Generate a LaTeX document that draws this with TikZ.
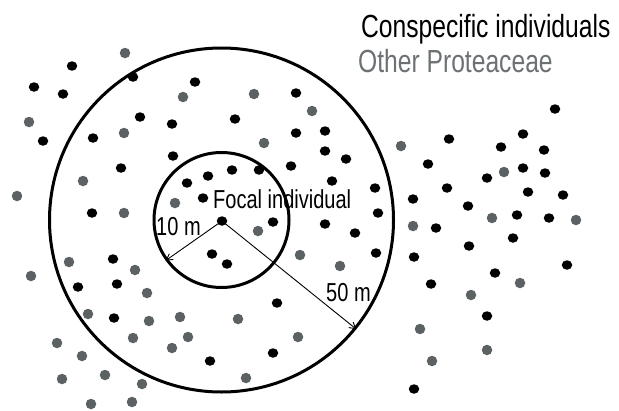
\documentclass[tikz,border=0pt]{standalone}
\usepackage{fontspec}
\setmainfont{Liberation Sans}[FakeStretch=0.77]
\usetikzlibrary{arrows.meta,shapes.geometric}
\definecolor{dotgray}{RGB}{92,98,100}
\definecolor{txtgray}{RGB}{108,114,116}
\begin{document}
\begin{tikzpicture}[x=1pt,y=-1pt,
  ring/.style={draw=black, line width=3pt, circle, inner sep=0pt},
  cdot/.style={shape=ellipse, fill=black, draw=none, inner sep=0pt, minimum width=10.5pt, minimum height=9.5pt},
  gdot/.style={shape=circle, fill=dotgray, draw=none, inner sep=0pt, minimum size=10.5pt},
  arr/.style={line width=0.9pt, -{Straight Barb[length=6pt,width=7pt]}},
  lab/.style={inner sep=0pt, anchor=base west, font=\fontsize{26}{28}\selectfont},
  leg/.style={inner sep=0pt, anchor=base west, font=\fontsize{32}{34}\selectfont}
]
\useasboundingbox[fill=white] (0,0) rectangle (619,410);
% rings
\node[ring, minimum size=135pt] (inner) at (221.5,220) {};
\node[ring, minimum size=344pt] (outer) at (221.5,220) {};
% other Proteaceae
\foreach \x/\y [count=\i] in {125/53,183/97,29/122,124/133,83/181,17/196,175/203,124/213,
  254/94,312/111,264/143,401/146,
  258/231,300/255,340/266,147/293,238/319,298/337,246/378,
  69/262,31/276,135/270,88/314,149/321,180/317,188/337,133/338,172/348,57/343,82/356,62/379,105/375,142/384,91/404,132/402,
  504/172,492/218,576/220,413/226,520/283,471/295,420/329,487/350,432/361}
  \node[gdot] (g\i) at (\x,\y) {};
% conspecific individuals
\foreach \x/\y [count=\i] in {72/66,133/77,195/82,34/87,63/94,140/117,172/124,43/141,93/138,173/156,121/168,187/183,208/176,
  203/198,92/213,
  296/93,235/119,296/133,325/131,325/151,346/159,291/166,232/170,259/170,332/181,375/188,378/213,
  273/222,325/224,355/233,212/254,227/264,376/253,277/303,210/361,273/353,
  113/259,78/287,117/284,114/318,
  555/109,449/139,523/134,501/147,544/150,428/164,523/168,545/173,487/178,447/188,528/192,563/195,413/199,468/206,517/215,549/218,436/228,513/238,469/246,414/257,567/265,495/273,431/284,487/316,414/389}
  \node[cdot] (c\i) at (\x,\y) {};
\node[cdot] (focal) at (222,221) {};
% radii
\draw[arr] (focal.center) -- (inner.216);
\draw[arr] (focal.center) -- (outer.321.4);
% labels
\node[lab] (focallab) at (213,208) {Focal individual};
\node[lab] (lab10) at (156,235) {10 m};
\node[lab] (lab50) at (326,301) {50 m};
\node[leg] (leg1) at (361,37) {Conspecific individuals};
\node[leg, text=txtgray] (leg2) at (358,72) {Other Proteaceae};
\end{tikzpicture}
\end{document}
